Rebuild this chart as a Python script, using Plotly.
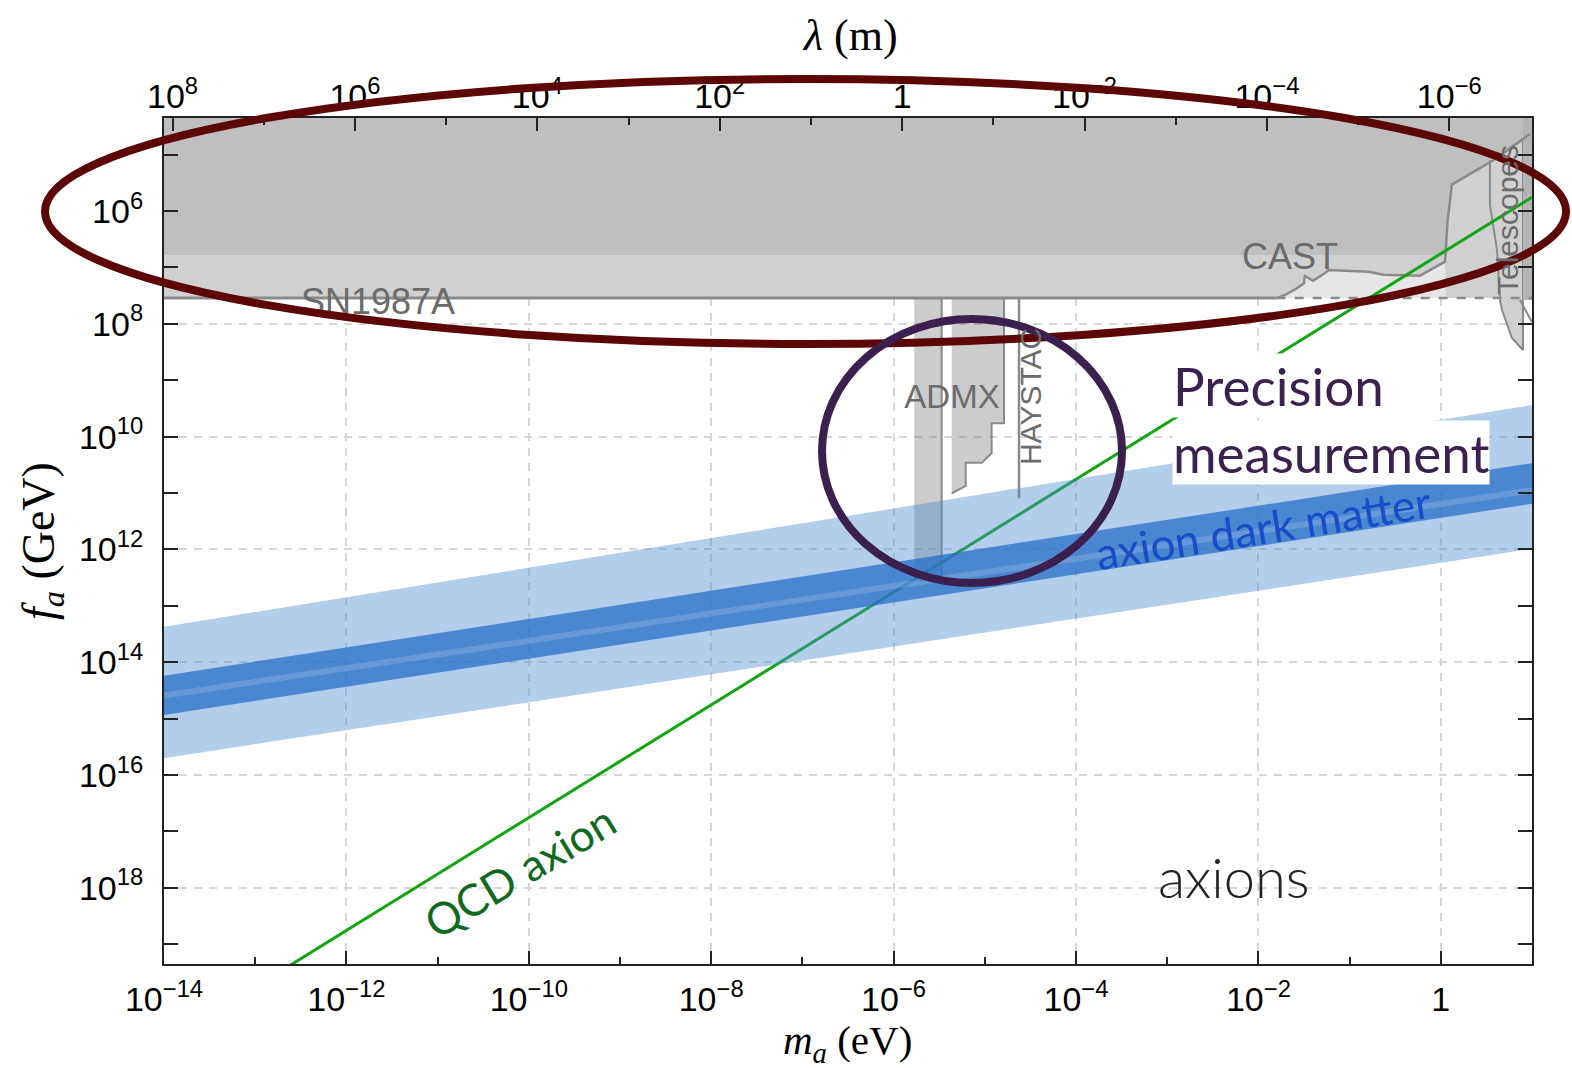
import plotly.graph_objects as go

# ---------------- data ----------------
# axis ranges (log10)
m_range_log = [-14, 1]          # m_a (eV)
fa_range_log = [19.35, 4.35]    # f_a (GeV), reversed
lam_range_log = [8.0934, -6.9066]  # lambda (m) = 1.24e-6 / m_a(eV)

# axion dark matter band: log10 f_a at m = 1e-14 eV and m = 10 eV
band_m = [1e-14, 1e1]
band_outer_top = [13.37, 9.44]
band_outer_bot = [15.70, 11.99]
band_inner_top = [14.24, 10.47]
band_inner_bot = [14.935, 11.19]
band_center = [14.59, 10.95]

# QCD axion line
qcd_m = [1e-14, 1e1]
qcd_fa = [5.7e20, 5.7e5]

# excluded regions (log10 values)
sn_logfa = 7.54
hb_logfa = 6.78
cast_logm = [-1.80, -1.708, -1.58, -1.50, -1.49, -1.40, -1.27, -1.23, -0.79,
             -0.63, -0.228, 0.046, 0.075, 0.122, 0.576, 0.978]
cast_logfa = [7.547, 7.488, 7.37, 7.28, 7.15, 7.235, 7.10, 7.045, 7.075,
              7.13, 7.146, 6.898, 6.16, 5.53, 5.10, 4.634]
tel_logm = [0.539, 0.539, 0.616, 0.649, 0.671, 0.78, 0.901, 0.901]
tel_logfa = [5.095, 5.893, 6.69, 7.577, 7.754, 8.25, 8.463, 4.75]
admx1_logm = [-5.773, -5.473, -5.473, -5.773]
admx1_logfa = [7.54, 7.54, 12.55, 12.55]
admx2_logm = [-5.363, -4.789, -4.789, -4.925, -4.925, -5.034, -5.209, -5.209, -5.363]
admx2_logfa = [7.54, 7.54, 9.763, 9.763, 10.295, 10.462, 10.462, 10.875, 11.004]
haystac_logm = [-4.625, -4.625]
haystac_logfa = [7.54, 11.093]

# tick labels
x_major = [-14, -12, -10, -8, -6, -4, -2, 0]
x_labels = ["10<sup>−14</sup>", "10<sup>−12</sup>", "10<sup>−10</sup>", "10<sup>−8</sup>",
            "10<sup>−6</sup>", "10<sup>−4</sup>", "10<sup>−2</sup>", "1"]
y_major = [6, 8, 10, 12, 14, 16, 18]
y_labels = ["10<sup>6</sup>", "10<sup>8</sup>", "10<sup>10</sup>", "10<sup>12</sup>",
            "10<sup>14</sup>", "10<sup>16</sup>", "10<sup>18</sup>"]
lam_major = [8, 6, 4, 2, 0, -2, -4, -6]
lam_labels = ["10<sup>8</sup>", "10<sup>6</sup>", "10<sup>4</sup>", "10<sup>2</sup>", "1",
              "10<sup>−2</sup>", "10<sup>−4</sup>", "10<sup>−6</sup>"]


def P(v):
    return [10 ** a for a in v]


GRAY_LINE = "#8a8a8a"
fig = go.Figure()


def poly(xl, yl, fill, line_color=None, lw=0, dash=None):
    fig.add_trace(go.Scatter(
        x=P(xl), y=P(yl), mode="lines", fill="toself", fillcolor=fill,
        line=dict(color=line_color or "rgba(0,0,0,0)", width=lw, dash=dash),
        hoverinfo="skip", showlegend=False))


def line(xl, yl, color, lw, dash=None):
    fig.add_trace(go.Scatter(
        x=P(xl), y=P(yl), mode="lines",
        line=dict(color=color, width=lw, dash=dash),
        hoverinfo="skip", showlegend=False))


xl0, xl1 = m_range_log
ytop = min(fa_range_log)

# SN / CAST gray regions
poly([xl0, xl1, xl1, xl0], [ytop, ytop, sn_logfa, sn_logfa], "#d0d0d0")
poly(cast_logm[:12] + [0.06], cast_logfa[:12] + [sn_logfa], "#e6e6e6")
poly([xl0, xl0, 0.07] + cast_logm[12:] + [xl1, xl1],
     [ytop, hb_logfa, hb_logfa] + cast_logfa[12:] + [4.6, ytop], "#bfbfbf")
# telescopes
poly(tel_logm, tel_logfa, "#d0d0d0", GRAY_LINE, 2)
poly([0.901, xl1, xl1, 0.901], [ytop, ytop, 7.577, 7.577], "#b4b4b4")
line([0.868, xl1], [7.577, 7.967], GRAY_LINE, 2)
# boundary lines
line([xl0, cast_logm[0]], [sn_logfa, sn_logfa], GRAY_LINE, 3)
line(cast_logm, cast_logfa, GRAY_LINE, 2.5)
line([cast_logm[0], xl1], [sn_logfa, sn_logfa], GRAY_LINE, 2.5, "dash")
# haloscopes
poly(admx1_logm, admx1_logfa, "rgba(110,110,110,0.35)", GRAY_LINE, 2)
poly(admx2_logm, admx2_logfa, "rgba(110,110,110,0.35)", GRAY_LINE, 2)
line(haystac_logm, haystac_logfa, GRAY_LINE, 2.5)

# QCD axion line
fig.add_trace(go.Scatter(x=qcd_m, y=qcd_fa, mode="lines",
                         line=dict(color="#12a512", width=3),
                         hoverinfo="skip", showlegend=False))

# axion dark matter band
bx = band_m + band_m[::-1]
fig.add_trace(go.Scatter(x=bx, y=P(band_outer_top + band_outer_bot[::-1]),
                         mode="lines", fill="toself",
                         fillcolor="rgba(74,139,207,0.42)",
                         line=dict(width=0, color="rgba(0,0,0,0)"),
                         hoverinfo="skip", showlegend=False))
fig.add_trace(go.Scatter(x=bx, y=P(band_inner_top + band_inner_bot[::-1]),
                         mode="lines", fill="toself",
                         fillcolor="rgba(40,110,200,0.75)",
                         line=dict(width=0, color="rgba(0,0,0,0)"),
                         hoverinfo="skip", showlegend=False))
fig.add_trace(go.Scatter(x=band_m, y=P(band_center), mode="lines",
                         line=dict(color="rgba(255,255,255,0.16)", width=6),
                         hoverinfo="skip", showlegend=False))

# in-plot labels (below the overlay ellipses)
LABEL_FONT = "Liberation Sans, Arial, sans-serif"
fig.add_trace(go.Scatter(
    x=P([-11.654, -1.654, -5.36]), y=P([7.666, 6.868, 9.35]),
    mode="text", text=["SN1987A", "CAST", "ADMX"],
    textfont=dict(family=LABEL_FONT, size=[36, 36, 33], color="#6b6b6b"),
    hoverinfo="skip", showlegend=False))
fig.add_trace(go.Scatter(
    x=[10 ** -2.27], y=[10 ** 17.93], mode="text", text=["axions"],
    textfont=dict(family="Lato, sans-serif", size=56, color="#222222", weight=300),
    hoverinfo="skip", showlegend=False))

# dummy trace for the lambda axis
fig.add_trace(go.Scatter(x=[1.0], y=[1e10], xaxis="x2", yaxis="y", mode="markers",
                         marker=dict(opacity=0), hoverinfo="skip", showlegend=False))

GRID = dict(showgrid=True, gridcolor="#d6d6d6", gridwidth=1.5, griddash="8px,7px")
TICKFONT = dict(family=LABEL_FONT, size=34, color="black")

fig.update_layout(
    width=1572, height=1068,
    margin=dict(l=164, r=40, t=118, b=104),
    paper_bgcolor="white", plot_bgcolor="white",
    showlegend=False,
    xaxis=dict(type="log", range=m_range_log, autorange=False,
               tickmode="array", tickvals=P(x_major), ticktext=x_labels,
               ticks="inside", ticklen=13, tickwidth=1.5, tickcolor="#222",
               minor=dict(tickmode="array", tickvals=P([-13, -11, -9, -7, -5, -3, -1, 1]),
                          ticks="inside", ticklen=7, tickwidth=1.5, tickcolor="#222",
                          showgrid=False),
               showline=True, linecolor="#222", linewidth=2, mirror=True,
               tickfont=TICKFONT, ticklabelstandoff=4, zeroline=False, **GRID),
    xaxis2=dict(type="log", overlaying="x", side="top", anchor="y",
                range=lam_range_log, autorange=False,
                tickmode="array", tickvals=P(lam_major), ticktext=lam_labels,
                ticks="inside", ticklen=13, tickwidth=1.5, tickcolor="#222",
                minor=dict(tickmode="array", tickvals=P([7, 5, 3, 1, -1, -3, -5]),
                           ticks="inside", ticklen=7, tickwidth=1.5, tickcolor="#222",
                           showgrid=False),
                showline=True, linecolor="#222", linewidth=2,
                showgrid=False, zeroline=False,
                tickfont=TICKFONT, ticklabelstandoff=-6),
    yaxis=dict(type="log", range=fa_range_log, autorange=False,
               tickmode="array", tickvals=P(y_major), ticktext=y_labels,
               ticks="inside", ticklen=14, tickwidth=1.5, tickcolor="#222",
               minor=dict(tickmode="array", tickvals=P([5, 7, 9, 11, 13, 15, 17, 19]),
                          ticks="inside", ticklen=7, tickwidth=1.5, tickcolor="#222",
                          showgrid=False),
               showline=True, linecolor="#222", linewidth=2, mirror="allticks",
               tickfont=TICKFONT, ticklabelstandoff=12, zeroline=False, **GRID),
)

# axis titles
SERIF = "Liberation Serif, Times New Roman, serif"
fig.add_annotation(xref="paper", yref="paper", x=0.4993, y=-0.093,
                   xanchor="center", yanchor="middle",
                   text="<i>m</i><sub><i>a</i></sub> (eV)", showarrow=False,
                   font=dict(family=SERIF, size=41, color="black"))
fig.add_annotation(xref="paper", yref="paper", x=0.5015, y=1.097,
                   xanchor="center", yanchor="middle",
                   text="<i>λ</i> (m)", showarrow=False,
                   font=dict(family=SERIF, size=44, color="black"))
fig.add_annotation(xref="paper", yref="paper", x=-0.0892, y=0.5, textangle=-90,
                   xanchor="center", yanchor="middle",
                   text="<i>f</i><sub><i>a</i></sub> (GeV)", showarrow=False,
                   font=dict(family=SERIF, size=46, color="black"))

# rotated labels
fig.add_annotation(x=-4.504, y=9.297, text="HAYSTAC", textangle=-90, showarrow=False,
                   font=dict(family=LABEL_FONT, size=30, color="#6b6b6b"))
fig.add_annotation(x=0.726, y=6.159, text="Telescopes", textangle=-90, showarrow=False,
                   font=dict(family=LABEL_FONT, size=30, color="#6b6b6b"))
fig.add_annotation(x=-10.107, y=17.70, text="QCD axion", textangle=-31, showarrow=False,
                   font=dict(family="Lato, sans-serif", size=44, color="#0f6a20"))
fig.add_annotation(x=-1.95, y=11.60, text="axion dark matter", textangle=-9,
                   showarrow=False,
                   font=dict(family="Lato, sans-serif", size=44, color="#1a4cc8"))

# overlay highlight
PURPLE = "#3a2150"
fig.add_annotation(x=-2.947, y=9.093, xanchor="left", text="Precision", showarrow=False,
                   bgcolor="white", borderpad=0,
                   font=dict(family="Lato, sans-serif", size=53, color=PURPLE))
fig.add_annotation(x=-2.947, y=10.281, xanchor="left", text="measurement",
                   showarrow=False, bgcolor="white", borderpad=0,
                   font=dict(family="Lato, sans-serif", size=53, color=PURPLE))

fig.add_shape(type="circle", xref="paper", yref="paper",
              x0=-0.0870, x1=1.0249, y0=0.7329, y1=1.0461,
              line=dict(color="#5c0606", width=8), layer="above")
fig.add_shape(type="circle", xref="paper", yref="paper",
              x0=0.4810, x1=0.7003, y0=0.4504, y1=0.7624,
              line=dict(color="#3b1f4f", width=8), layer="above")

fig.write_html("out.html")
